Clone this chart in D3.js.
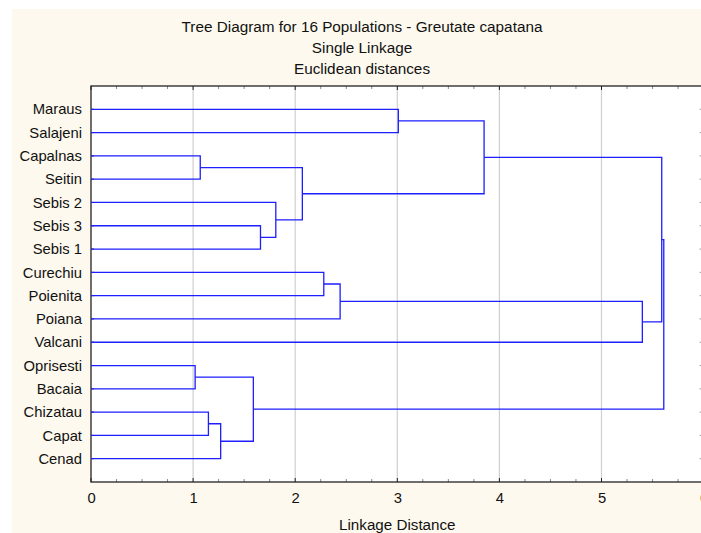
<!DOCTYPE html>
<html><head><meta charset="utf-8">
<script src="https://cdn.jsdelivr.net/npm/d3@7"></script>
<style>html,body{margin:0;padding:0;background:#fff;overflow:hidden}svg{display:block}text{font-family:"Liberation Sans",Arial,sans-serif;fill:#111}</style>
</head><body><svg id="c" width="701" height="533"></svg>
<script>
const titleLines = ["Tree Diagram for 16 Populations - Greutate capatana", "Single Linkage", "Euclidean distances"];
const xTitle = "Linkage Distance";
const leaves = ["Maraus","Salajeni","Capalnas","Seitin","Sebis 2","Sebis 3","Sebis 1","Curechiu","Poienita","Poiana","Valcani","Oprisesti","Bacaia","Chizatau","Capat","Cenad"];
// merges: left child, right child, linkage distance ("m#" = earlier merge)
const mergeLeft   = ["Capalnas","Sebis 3","Sebis 2","m0","Maraus","m4","Curechiu","m6","m7","Oprisesti","Chizatau","m10","m9","m5","m13"];
const mergeRight  = ["Seitin","Sebis 1","m1","m2","Salajeni","m3","Poienita","Poiana","Valcani","Bacaia","Capat","Cenad","m11","m8","m12"];
const mergeHeight = [1.07,1.66,1.81,2.07,3.01,3.85,2.28,2.44,5.40,1.02,1.15,1.27,1.59,5.59,5.61];
const xTicks = [0,1,2,3,4,5,6];

const svg = d3.select("#c");
svg.append("rect").attr("x",12).attr("y",9).attr("width",701-12).attr("height",533-9).attr("fill","#fdf9ee");

const L = 91, T = 86, B = 482;
const x = d3.scaleLinear().domain([0,6]).range([L,703.6]);
const y = d3.scaleLinear().domain([0,leaves.length+1]).range([T,B]);
const R = x(6);
const FS = 14.8;

svg.append("rect").attr("x",L).attr("y",T).attr("width",R-L).attr("height",B-T).attr("fill","#fff");

// grid
svg.append("g").selectAll("line").data(xTicks.filter(d=>d>0&&d<6)).join("line")
  .attr("x1",d=>x(d)).attr("x2",d=>x(d)).attr("y1",T).attr("y2",B)
  .attr("stroke","#cfcfcf").attr("stroke-width",1.2);

// axes
const minor = d3.range(0,6.001,0.25);
const bottom = d3.axisBottom(x).tickValues(xTicks).tickSize(0).tickFormat(d3.format("d"));
const ga = svg.append("g").attr("transform",`translate(0,${B})`).call(bottom);
ga.select(".domain").remove();
ga.selectAll("text").attr("y",20.7).attr("dy",0).attr("font-size",FS)
  .style("font-family","'Liberation Sans',Arial,sans-serif").attr("fill","#111");

// minor/major ticks top & bottom (inward)
svg.append("g").selectAll("line").data(minor).join("line")
  .attr("x1",d=>x(d)).attr("x2",d=>x(d)).attr("y1",B).attr("y2",d=>B-(Number.isInteger(d)?4:3))
  .attr("stroke",d=>Number.isInteger(d)?"#222":"#888").attr("stroke-width",1);
svg.append("g").selectAll("line").data(minor).join("line")
  .attr("x1",d=>x(d)).attr("x2",d=>x(d)).attr("y1",T).attr("y2",d=>T+(Number.isInteger(d)?4:3))
  .attr("stroke",d=>Number.isInteger(d)?"#222":"#888").attr("stroke-width",1);

// left labels & ticks
const leafY = new Map(leaves.map((n,i)=>[n,y(i+1)]));
svg.append("g").selectAll("text").data(leaves).join("text")
  .attr("x",82).attr("y",d=>leafY.get(d)).attr("dy","0.35em").attr("text-anchor","end")
  .attr("font-size",FS).text(d=>d);
svg.append("g").selectAll("line").data(leaves).join("line")
  .attr("x1",L).attr("x2",L+3).attr("y1",d=>leafY.get(d)).attr("y2",d=>leafY.get(d)).attr("stroke","#222");
svg.append("g").selectAll("line").data(leaves).join("line")
  .attr("x1",R-4).attr("x2",R).attr("y1",d=>leafY.get(d)).attr("y2",d=>leafY.get(d)).attr("stroke","#999");

// frame
svg.append("rect").attr("x",L).attr("y",T).attr("width",R-L).attr("height",B-T)
  .attr("fill","none").attr("stroke","#222").attr("stroke-width",1.3);

// dendrogram
const pos = {};
leaves.forEach(n=>pos[n]={h:0,y:leafY.get(n)});
const segs = [];
mergeHeight.forEach((h,i)=>{
  const a = pos[mergeLeft[i]], b = pos[mergeRight[i]];
  segs.push([[x(a.h),a.y],[x(h),a.y],[x(h),b.y],[x(b.h),b.y]]);
  pos["m"+i] = {h:h,y:(a.y+b.y)/2};
});
const line = d3.line();
svg.append("g").selectAll("path").data(segs).join("path")
  .attr("d",line).attr("fill","none").attr("stroke","#1e1eff").attr("stroke-width",1.3);

// titles
svg.append("g").selectAll("text").data(titleLines).join("text")
  .attr("x",362).attr("y",(d,i)=>32.3+i*21).attr("text-anchor","middle").attr("font-size",15.3).text(d=>d);
svg.append("text").attr("x",(L+R)/2).attr("y",530).attr("text-anchor","middle").attr("font-size",15.2).text(xTitle);
</script></body></html>
